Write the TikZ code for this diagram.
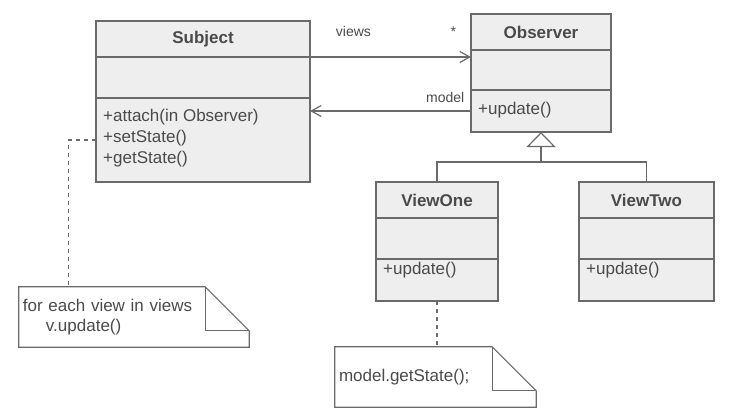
\documentclass[tikz,border=0pt]{standalone}
\usepackage{fontspec}
\setmainfont{Liberation Sans}
\usetikzlibrary{arrows.meta, positioning}
\definecolor{linegray}{HTML}{6A6A6A}
\definecolor{boxgray}{HTML}{EEEEEE}
\definecolor{textgray}{HTML}{4A4A4A}
\tikzstyle{compartment} = [
    draw=linegray,
    line width=1.2pt,
    fill=boxgray,
    inner sep=0pt,
    outer sep=0pt
]
\tikzstyle{class name} = [compartment, minimum height=36pt, text=textgray, font=\fontsize{17}{20}\selectfont\bfseries]
\tikzstyle{members} = [anchor=west, inner sep=0pt, align=left, text=textgray, font=\fontsize{17}{21}\selectfont]
\tikzstyle{role} = [anchor=base, inner sep=0pt, text=textgray, font=\fontsize{14}{17}\selectfont]
\tikzstyle{note box} = [inner sep=4pt, minimum height=60pt, align=left, text=textgray, font=\fontsize{17}{20}\selectfont]
\tikzstyle{note line} = [draw=linegray, line width=1.2pt]
\tikzstyle{assoc} = [draw=linegray, line width=1.2pt, -{Straight Barb[length=10pt, width=11pt]}]
\tikzstyle{tree line} = [draw=linegray, line width=1.2pt]
\tikzstyle{generalization} = [tree line, -{Triangle[open, length=15pt, width=29pt]}]
\tikzstyle{attach} = [draw=linegray, line width=1.2pt, dash pattern=on 4pt off 4pt]
\newcommand*{\notefold}[1]{%
    \draw [note line] (#1.north west) -- ([xshift=-44pt]#1.north east)
        -- ([yshift=-44pt]#1.north east) -- (#1.south east) -- (#1.south west) -- cycle;
    \draw [note line] ([xshift=-44pt]#1.north east) |- ([yshift=-44pt]#1.north east);
}
\begin{document}
\begin{tikzpicture}[x=1pt, y=-1pt]
    \useasboundingbox (0, 0) rectangle (736, 416);

    % Classes.
    \node (subject title) [class name, minimum width=214pt, anchor=north west] at (96, 21) {Subject};
    \node (subject attrs) [compartment, minimum width=214pt, minimum height=41pt, below=0pt of subject title] {};
    \node (subject ops) [compartment, minimum width=214pt, minimum height=84pt, below=0pt of subject attrs] {};

    \node (observer title) [class name, minimum width=140pt, anchor=north west] at (471, 14) {Observer};
    \node (observer attrs) [compartment, minimum width=140pt, minimum height=40pt, below=0pt of observer title] {};
    \node (observer ops) [compartment, minimum width=140pt, minimum height=42pt, below=0pt of observer attrs] {};

    \node (view one title) [class name, minimum width=122pt, anchor=north west] at (376, 182) {ViewOne};
    \node (view one attrs) [compartment, minimum width=122pt, minimum height=41pt, below=0pt of view one title] {};
    \node (view one ops) [compartment, minimum width=122pt, minimum height=42pt, below=0pt of view one attrs] {};

    \node (view two title) [class name, minimum width=135pt, anchor=north west] at (579, 182) {ViewTwo};
    \node (view two attrs) [compartment, minimum width=135pt, minimum height=41pt, below=0pt of view two title] {};
    \node (view two ops) [compartment, minimum width=135pt, minimum height=42pt, below=0pt of view two attrs] {};

    % Members.
    \node (subject ops text) [members] at (103, 138) {+attach(in Observer)\\+setState()\\+getState()};
    \node (observer ops text) [members] at (478, 110) {+update()};
    \node (view one ops text) [members] at (383, 270) {+update()};
    \node (view two ops text) [members] at (586, 270) {+update()};

    % Notes.
    \node (note one) [note box, text width=222pt] at (134, 317) {for each view in views\\\hspace*{23pt}v.update()};
    \notefold{note one}
    \node (note two) [note box, text width=193pt] at (435.5, 377) {model.getState();};
    \notefold{note two}

    % Paths.
    \draw [assoc] (subject title.south east)
        -- node (views label) [role, pos=0.27, yshift=21pt] {views}
           node (views mult) [role, pos=0.89, yshift=21pt] {*}
        (observer attrs.west |- subject title.south east);
    \draw [assoc] (observer ops.west)
        -- node (model label) [role, pos=0.16, yshift=9pt] {model}
        (subject ops.east |- observer ops.west);

    \coordinate (branch) at (541, 162);
    \draw [tree line] (view one title.north) |- (branch) -| (view two title.north);
    \draw [generalization] (branch) -- (observer ops.south);

    \draw [attach] (subject ops.west) -| ([xshift=50pt]note one.north west);
    \draw [attach] (view one ops.south) -- (view one ops.south |- note two.north);
\end{tikzpicture}
\end{document}
